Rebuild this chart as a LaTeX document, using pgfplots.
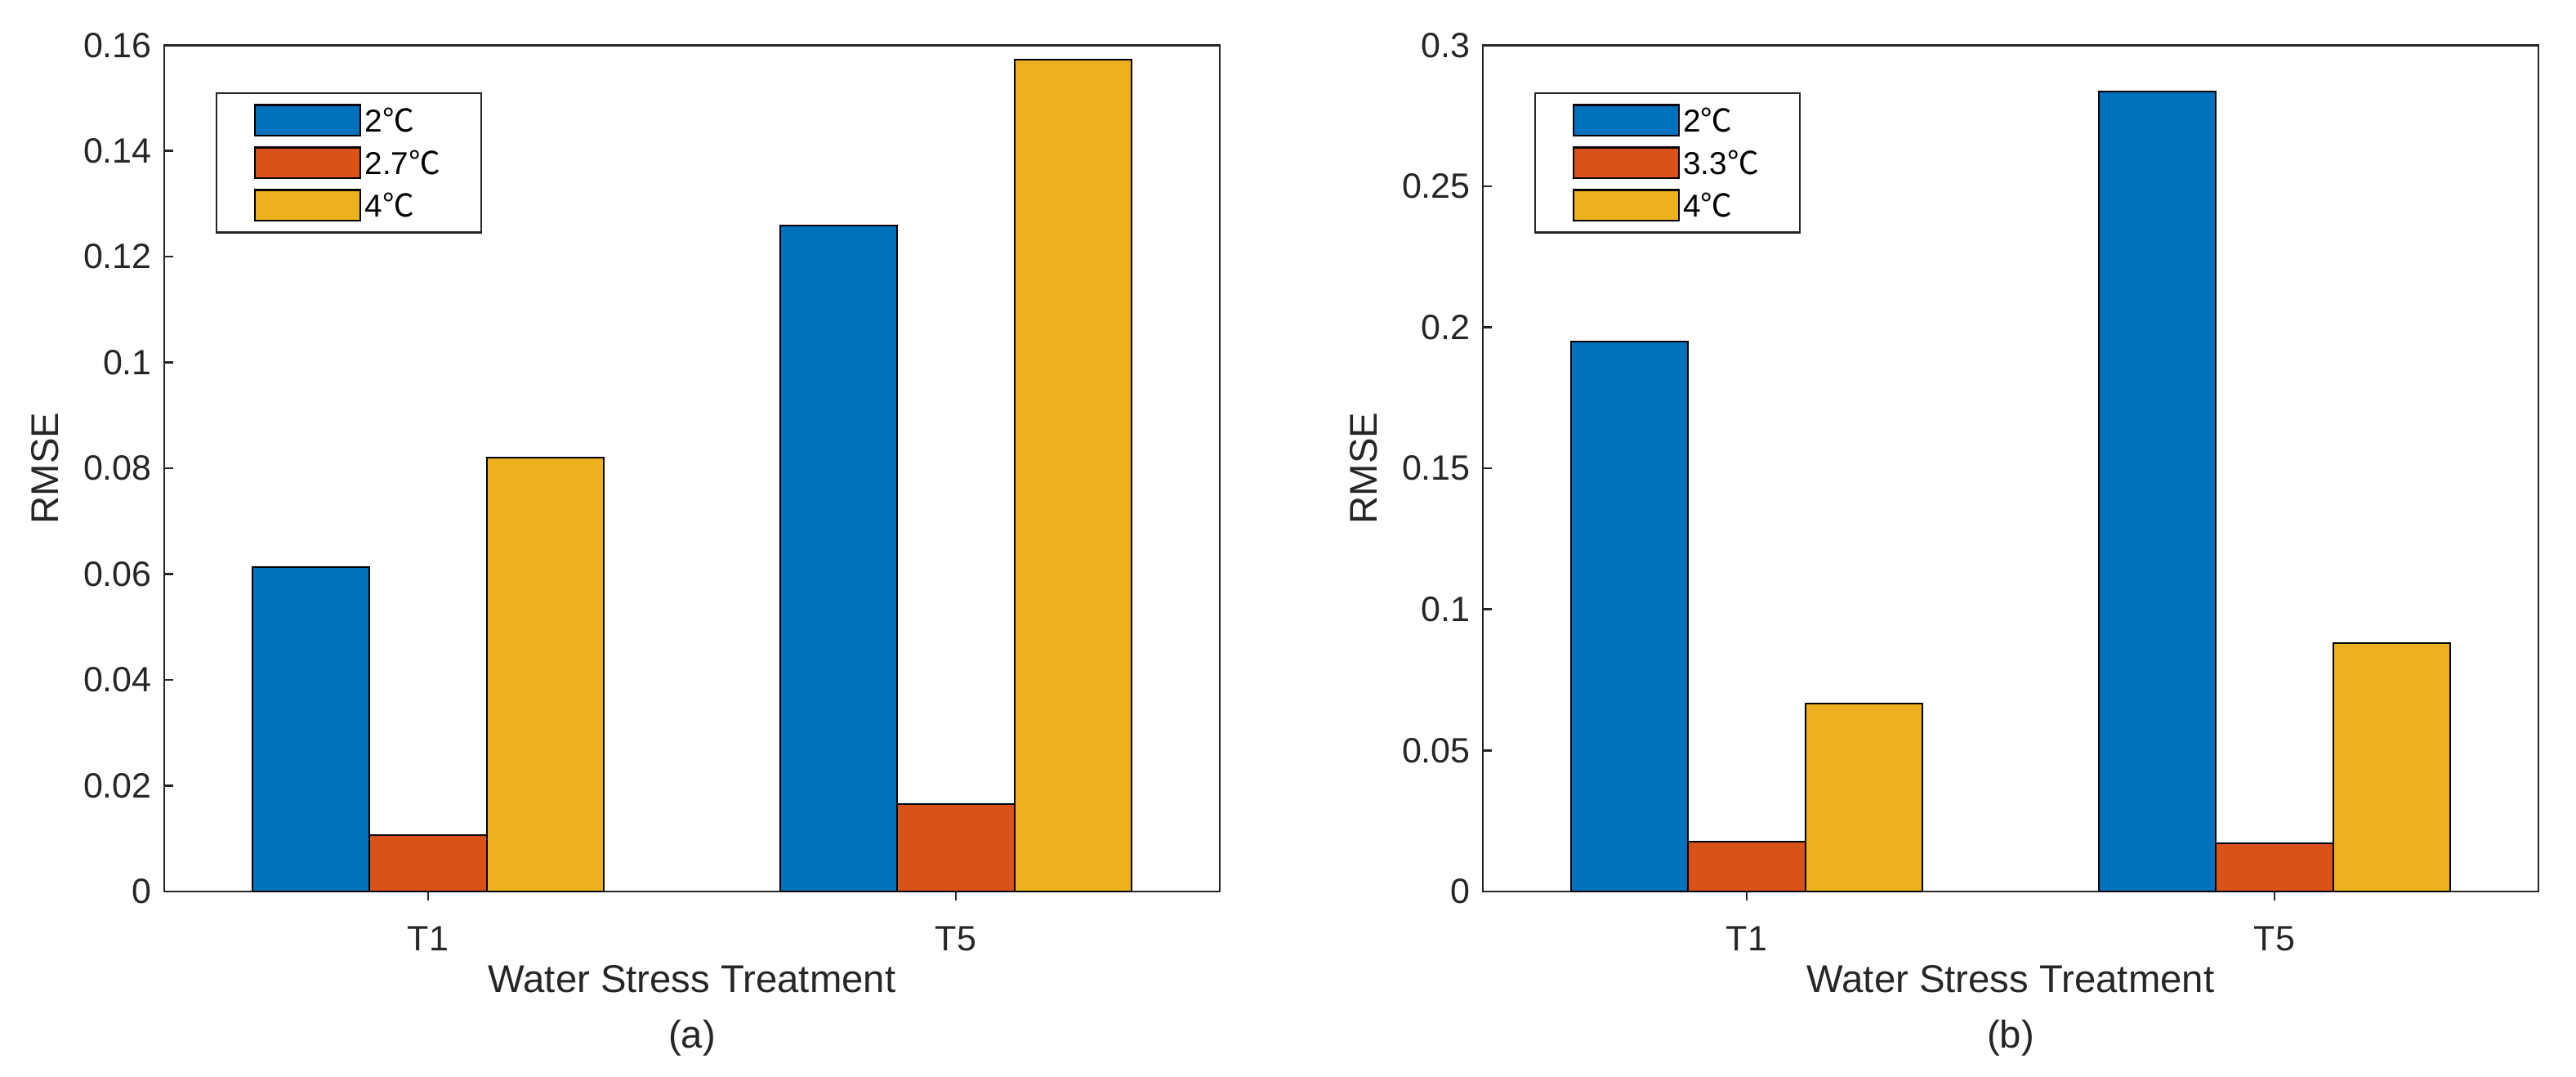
\documentclass[border=0pt]{standalone}
\usepackage{pgfplots}
\pgfplotsset{compat=1.18}
\usepackage{fontspec}
\setmainfont{Liberation Sans}
\newfontfamily\cjk{Noto Sans CJK SC}
\definecolor{c1}{RGB}{0,114,189}
\definecolor{c2}{RGB}{217,83,25}
\definecolor{c3}{RGB}{237,177,32}
\definecolor{axc}{RGB}{38,38,38}
\pgfplotsset{
 myaxis/.style={
  scale only axis, width=300.5pt, height=240.9pt,
  anchor=south west, clip=false,
  xmin=0.5, xmax=2.5, ymin=0,
  xtick={1,2}, xticklabels={T1,T5},
  xtick pos=bottom, ytick pos=left,
  tick align=inside,
  major tick length=2.5pt,
  axis line style={axc, line width=0.6pt},
  tick style={axc, line width=0.6pt},
  every tick label/.append style={font=\fontsize{10}{12}\selectfont, text=axc},
  xticklabel style={anchor=center, yshift=-10.9pt},
  scaled y ticks=false,
  yticklabel style={/pgf/number format/fixed, /pgf/number format/precision=3},
  /pgf/number format/assume math mode=true,
  xlabel={Water Stress Treatment}, ylabel={RMSE},
  label style={font=\fontsize{11}{13}\selectfont, text=axc},
  xlabel style={at={(axis description cs:0.5,-0.1033)}, anchor=center},
  ylabel style={at={(axis description cs:-0.113,0.5)}, anchor=center},
  ybar, bar width=0.222,
  legend style={at={(axis description cs:0.0488,0.944)}, anchor=north west,
    draw=axc, line width=0.5pt, inner xsep=10.7pt, inner ysep=1.65pt,
    font=\fontsize{9}{11}\selectfont,
    nodes={inner xsep=1pt, inner ysep=2.8pt, text height=6.5pt, text depth=0pt},
    row sep=0pt, column sep=0pt},
  legend cell align=left,
  legend image code/.code={\draw[#1] (0pt,-4.4pt) rectangle (30pt,4.4pt);},
 }
}
\begin{document}
\begin{tikzpicture}
\path (0,0) rectangle (733.3pt,306.3pt);
\begin{axis}[myaxis, at={(46.74pt,52.56pt)}, ymax=0.16, ytick={0,0.02,...,0.16}]
\addplot[fill=c1, draw=black, line width=0.5pt, bar shift=-0.222] coordinates {(1,0.0613) (2,0.1259)};
\addplot[fill=c2, draw=black, line width=0.5pt, bar shift=0] coordinates {(1,0.0106) (2,0.0165)};
\addplot[fill=c3, draw=black, line width=0.5pt, bar shift=0.222] coordinates {(1,0.0820) (2,0.1572)};
\legend{2{\cjk ℃},2.7{\cjk ℃},4{\cjk ℃}}
\node[font=\fontsize{11}{13}\selectfont, text=axc] at (axis description cs:0.5,-0.1728) {(a)};
\end{axis}
\begin{axis}[myaxis, at={(422.09pt,52.56pt)}, ymax=0.3, ytick={0,0.05,...,0.3}]
\addplot[fill=c1, draw=black, line width=0.5pt, bar shift=-0.222] coordinates {(1,0.195) (2,0.2836)};
\addplot[fill=c2, draw=black, line width=0.5pt, bar shift=0] coordinates {(1,0.0177) (2,0.0171)};
\addplot[fill=c3, draw=black, line width=0.5pt, bar shift=0.222] coordinates {(1,0.0666) (2,0.0880)};
\legend{2{\cjk ℃},3.3{\cjk ℃},4{\cjk ℃}}
\node[font=\fontsize{11}{13}\selectfont, text=axc] at (axis description cs:0.5,-0.1728) {(b)};
\end{axis}
\end{tikzpicture}
\end{document}
